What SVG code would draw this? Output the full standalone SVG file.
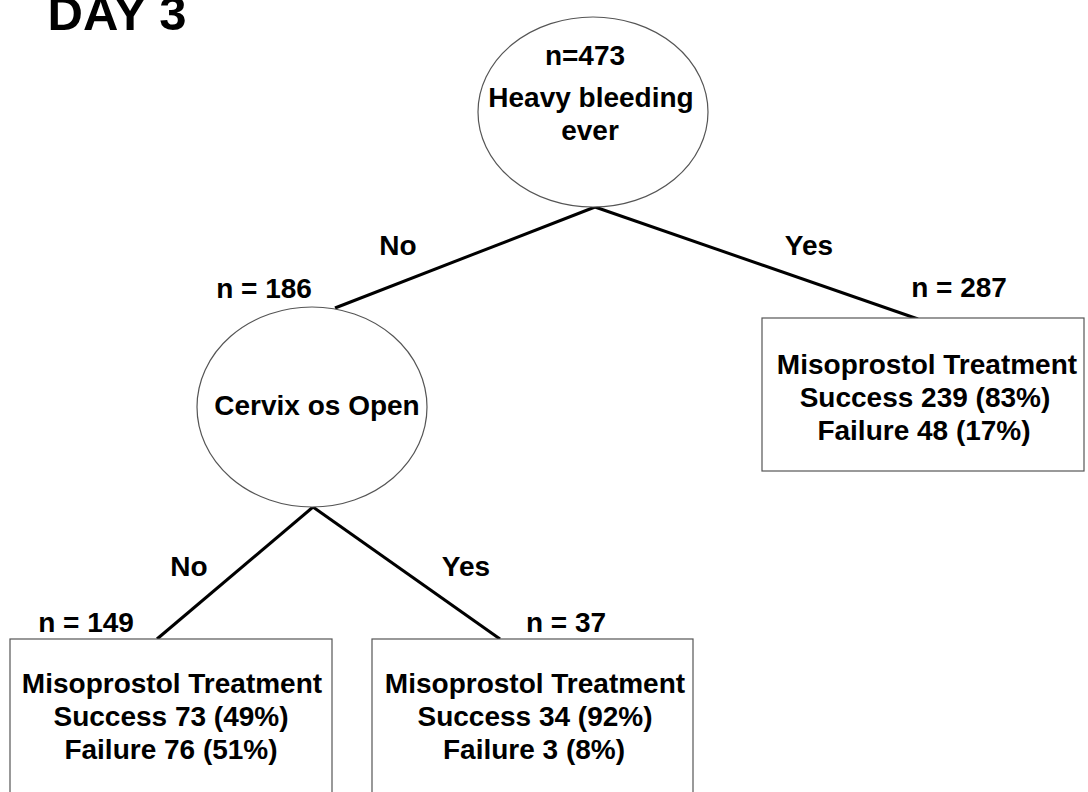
<svg xmlns="http://www.w3.org/2000/svg" width="1088" height="792" viewBox="0 0 1088 792">
<style>
text{font-family:"Liberation Sans",Arial,sans-serif;font-weight:bold;fill:#000;text-anchor:middle}
.t{font-size:28px}
.shape{fill:#fff;stroke:#555;stroke-width:1.2}
.conn{stroke:#000;stroke-width:3;fill:none}
</style>
<rect x="0" y="0" width="1088" height="792" fill="#fff"/>
<text x="117" y="30" style="font-size:49px">DAY 3</text>
<g id="connectors">
<line class="conn" x1="595" y1="207" x2="335" y2="308"/>
<line class="conn" x1="595" y1="207" x2="918" y2="319"/>
<line class="conn" x1="313" y1="507" x2="157" y2="639"/>
<line class="conn" x1="313" y1="507" x2="500" y2="639"/>
<text class="t" x="398" y="255">No</text>
<text class="t" x="809" y="255">Yes</text>
<text class="t" x="189" y="576">No</text>
<text class="t" x="466" y="576">Yes</text>
</g>
<g id="root">
<ellipse class="shape" cx="593" cy="112" rx="115" ry="95"/>
<text class="t" x="585" y="65">n=473</text>
<text class="t" x="591" y="107">Heavy bleeding</text>
<text class="t" x="590" y="140">ever</text>
</g>
<g id="cervix">
<text class="t" x="264" y="298">n = 186</text>
<ellipse class="shape" cx="312" cy="407" rx="115" ry="100"/>
<text class="t" x="317" y="415">Cervix os Open</text>
</g>
<g id="yes-heavy">
<text class="t" x="959" y="297">n = 287</text>
<rect class="shape" x="762" y="318" width="322" height="153"/>
<text class="t" x="927" y="374">Misoprostol Treatment</text>
<text class="t" x="925" y="407">Success 239 (83%)</text>
<text class="t" x="924" y="440">Failure 48 (17%)</text>
</g>
<g id="cervix-closed">
<text class="t" x="86" y="632">n = 149</text>
<rect class="shape" x="10" y="639" width="322" height="170"/>
<text class="t" x="172" y="693">Misoprostol Treatment</text>
<text class="t" x="171" y="726">Success 73 (49%)</text>
<text class="t" x="171" y="759">Failure 76 (51%)</text>
</g>
<g id="cervix-open">
<text class="t" x="566" y="632">n = 37</text>
<rect class="shape" x="372" y="639" width="321" height="170"/>
<text class="t" x="535" y="693">Misoprostol Treatment</text>
<text class="t" x="535" y="726">Success 34 (92%)</text>
<text class="t" x="534" y="759">Failure 3 (8%)</text>
</g>
</svg>
